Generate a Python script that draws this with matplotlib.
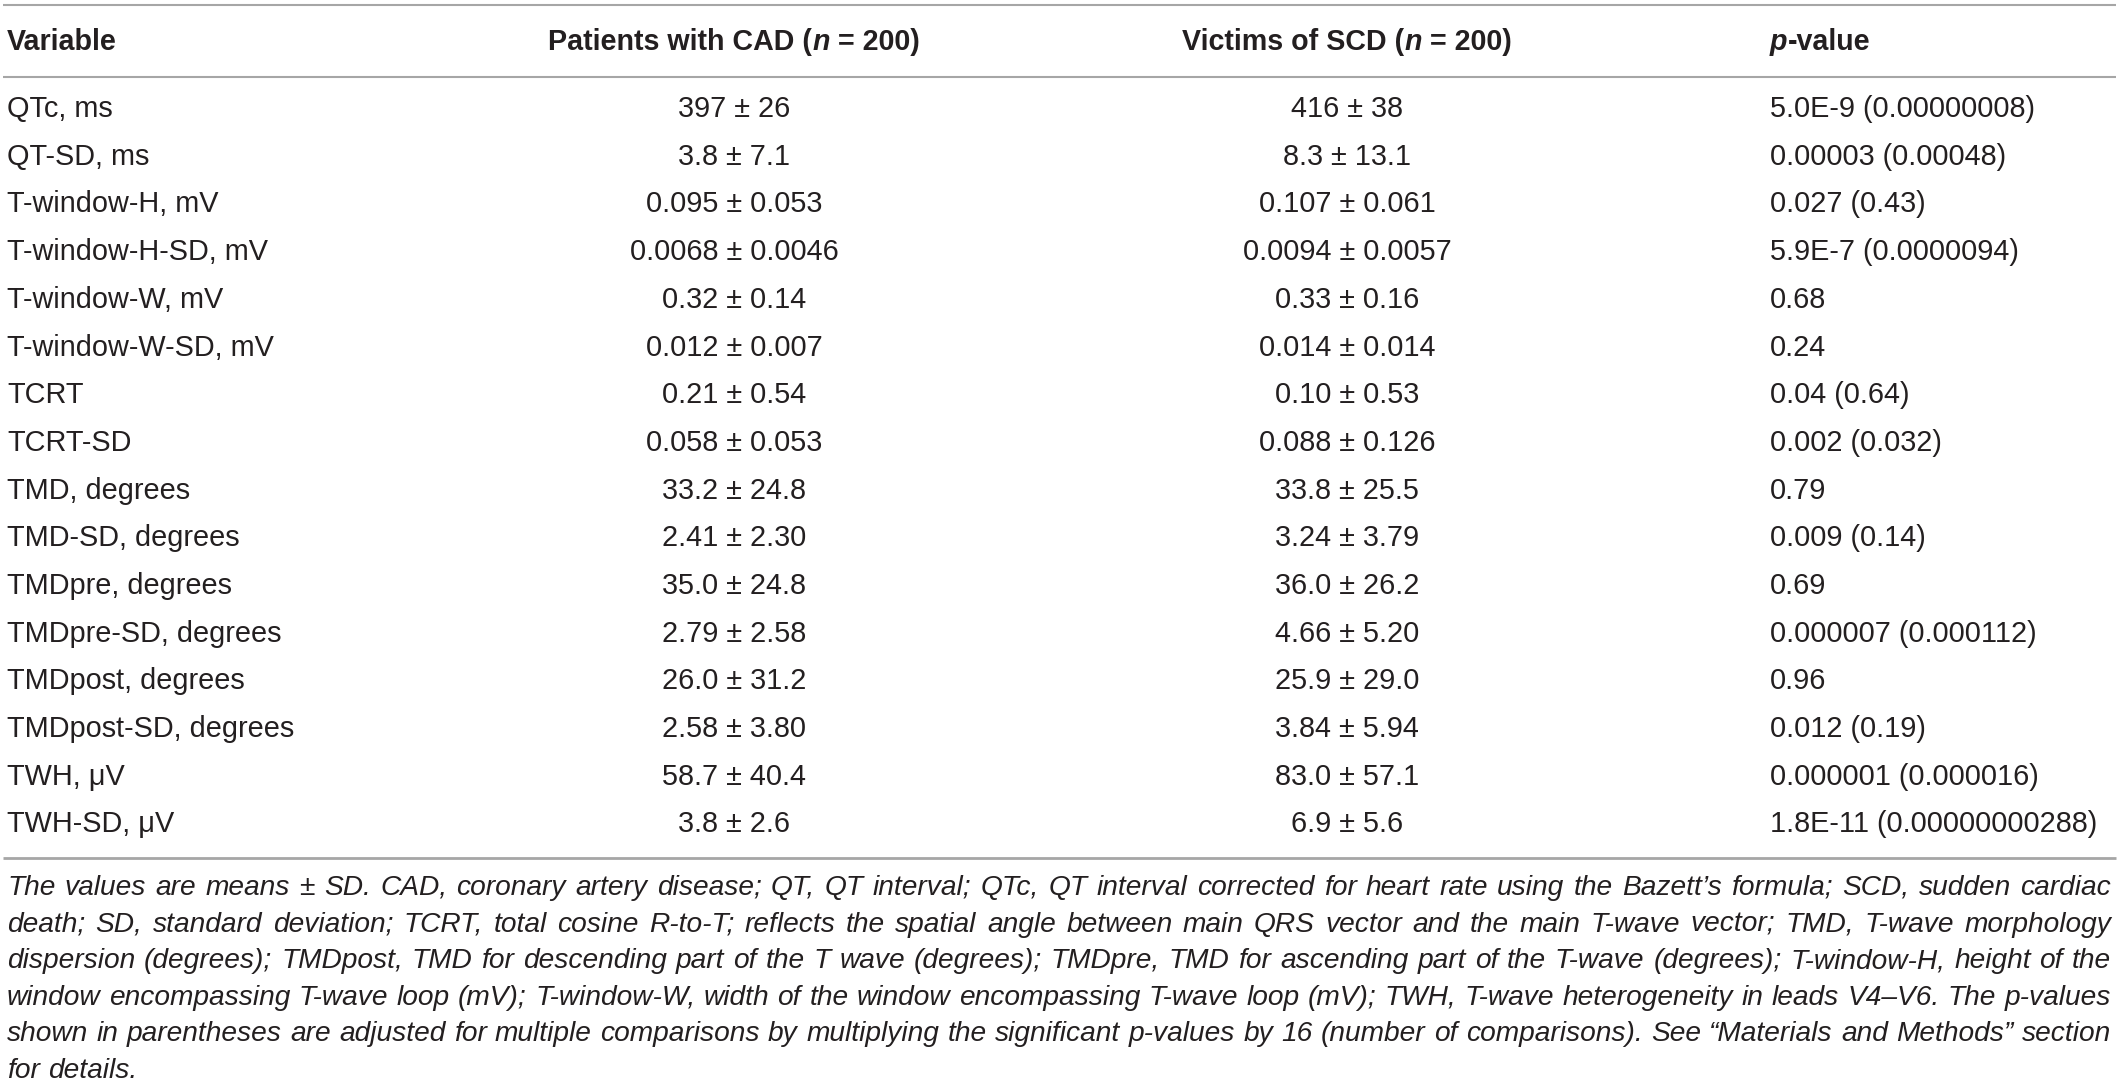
import matplotlib
matplotlib.use("Agg")
import matplotlib.pyplot as plt

plt.rcParams['font.family'] = ['Liberation Sans', 'DejaVu Sans']

W, H = 2119, 1088

variables = ["QTc, ms", "QT-SD, ms", "T-window-H, mV", "T-window-H-SD, mV",
             "T-window-W, mV", "T-window-W-SD, mV", "TCRT", "TCRT-SD",
             "TMD, degrees", "TMD-SD, degrees", "TMDpre, degrees",
             "TMDpre-SD, degrees", "TMDpost, degrees", "TMDpost-SD, degrees",
             "TWH, μV", "TWH-SD, μV"]
cad = ["397 ± 26", "3.8 ± 7.1", "0.095 ± 0.053", "0.0068 ± 0.0046",
       "0.32 ± 0.14", "0.012 ± 0.007", "0.21 ± 0.54", "0.058 ± 0.053",
       "33.2 ± 24.8", "2.41 ± 2.30", "35.0 ± 24.8", "2.79 ± 2.58",
       "26.0 ± 31.2", "2.58 ± 3.80", "58.7 ± 40.4", "3.8 ± 2.6"]
scd = ["416 ± 38", "8.3 ± 13.1", "0.107 ± 0.061", "0.0094 ± 0.0057",
       "0.33 ± 0.16", "0.014 ± 0.014", "0.10 ± 0.53", "0.088 ± 0.126",
       "33.8 ± 25.5", "3.24 ± 3.79", "36.0 ± 26.2", "4.66 ± 5.20",
       "25.9 ± 29.0", "3.84 ± 5.94", "83.0 ± 57.1", "6.9 ± 5.6"]
pvals = ["5.0E-9 (0.00000008)", "0.00003 (0.00048)", "0.027 (0.43)",
         "5.9E-7 (0.0000094)", "0.68", "0.24", "0.04 (0.64)", "0.002 (0.032)",
         "0.79", "0.009 (0.14)", "0.69", "0.000007 (0.000112)", "0.96",
         "0.012 (0.19)", "0.000001 (0.000016)", "1.8E-11 (0.00000000288)"]

footnote = [
    "The values are means ± SD. CAD, coronary artery disease; QT, QT interval; QTc, QT interval corrected for heart rate using the Bazett’s formula; SCD, sudden cardiac",
    "death; SD, standard deviation; TCRT, total cosine R-to-T; reflects the spatial angle between main QRS vector and the main T-wave vector; TMD, T-wave morphology",
    "dispersion (degrees); TMDpost, TMD for descending part of the T wave (degrees); TMDpre, TMD for ascending part of the T-wave (degrees); T-window-H, height of the",
    "window encompassing T-wave loop (mV); T-window-W, width of the window encompassing T-wave loop (mV); TWH, T-wave heterogeneity in leads V4–V6. The p-values",
    "shown in parentheses are adjusted for multiple comparisons by multiplying the significant p-values by 16 (number of comparisons). See “Materials and Methods” section",
    "for details.",
]

TXT = "#231f20"
RULE = "#a6a6a6"
FS = 20.8
FS_HEAD = 20.6

fig = plt.figure(figsize=(W / 100, H / 100), dpi=100)
ax = fig.add_axes([0, 0, 1, 1])
ax.set_xlim(0, W)
ax.set_ylim(H, 0)
ax.axis("off")
r = fig.canvas.get_renderer()


def width(t):
    return t.get_window_extent(r).width


def measure(s, **kw):
    t = ax.text(W / 2, H / 2, s, **kw)
    w = width(t)
    t.remove()
    return w


def runs(parts, x, y, align="left"):
    # parts: list of (text, weight, style)
    objs = [ax.text(0, y, s, fontsize=FS_HEAD, weight=w, style=st, color=TXT,
                    va="baseline") for s, w, st in parts]
    ws = [width(o) for o in objs]
    x0 = x - sum(ws) / 2 if align == "center" else x
    for o, w in zip(objs, ws):
        o.set_x(x0)
        x0 += w


# rules
ax.hlines([5, 77], 3, 2116, color=RULE, lw=1.5)
ax.hlines(858, 3, 2116, color=RULE, lw=2.0)

# header
hb = 50
x_var, x_cad, x_scd, x_p = 7, 734, 1347, 1770
runs([("Variable", "bold", "normal")], x_var, hb)
runs([("Patients with CAD (", "bold", "normal"), ("n", "bold", "italic"),
      (" = 200)", "bold", "normal")], x_cad, hb, "center")
runs([("Victims of SCD (", "bold", "normal"), ("n", "bold", "italic"),
      (" = 200)", "bold", "normal")], x_scd, hb, "center")
runs([("p", "bold", "italic"), ("-value", "bold", "normal")], x_p, hb)

# body rows
for i in range(len(variables)):
    y = 117 + i * 47.7
    ax.text(x_var, y, variables[i], fontsize=FS, color=TXT, va="baseline")
    ax.text(x_cad, y, cad[i], fontsize=FS, color=TXT, va="baseline", ha="center")
    ax.text(x_scd, y, scd[i], fontsize=FS, color=TXT, va="baseline", ha="center")
    ax.text(x_p, y, pvals[i], fontsize=FS, color=TXT, va="baseline")

# footnote, justified; size chosen so the fullest line fits the width
left, right = 7, 2111
base = 18.0
fs_note = min(base * (right - left) / measure(ln, fontsize=base, style="italic")
              for ln in footnote[:-1]) * 0.995
space = measure("a b", fontsize=fs_note, style="italic") - \
    measure("ab", fontsize=fs_note, style="italic")
for k, line in enumerate(footnote):
    y = 895 + k * 36.6
    words = line.split(" ")
    objs = [ax.text(0, y, wd, fontsize=fs_note, style="italic", color=TXT, va="baseline")
            for wd in words]
    ws = [width(o) for o in objs]
    if k < len(footnote) - 1:
        gap = (right - left - sum(ws)) / (len(words) - 1)
    else:
        gap = space
    x = left
    for o, w in zip(objs, ws):
        o.set_x(x)
        x += w + gap

fig.savefig("out.png", dpi=100)
